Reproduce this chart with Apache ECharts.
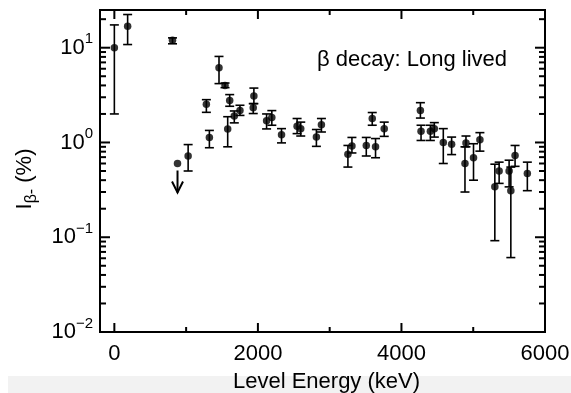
<!DOCTYPE html>
<html><head><meta charset="utf-8">
<script src="https://cdn.jsdelivr.net/npm/echarts@6/dist/echarts.min.js"></script>
<style>html,body{margin:0;padding:0;background:#fff}#c{width:571px;height:393px}</style>
</head><body><div id="c"></div>
<script>
// Level energies (keV), beta intensities (%), and error bar bounds
const energy    = [0, 185, 810, 1028, 1282, 1324, 1458, 1542, 1579, 1607, 1671, 1750, 1944, 1935, 2121, 2194, 2329, 2546, 2597, 2815, 2885, 3254, 3310, 3510, 3593, 3639, 3760, 4264, 4273, 4403, 4458, 4583, 4699, 4899, 4885, 5004, 5093, 5301, 5361, 5500, 5524, 5583, 5754];
const intensity = [10.0, 16.8, 12.0, 0.72, 2.53, 1.13, 6.15, 4.00, 1.39, 2.78, 1.90, 2.18, 3.09, 2.33, 1.70, 1.83, 1.21, 1.48, 1.40, 1.14, 1.54, 0.75, 0.92, 0.93, 1.79, 0.90, 1.40, 2.18, 1.31, 1.31, 1.40, 1.00, 0.96, 0.99, 0.60, 0.69, 1.07, 0.34, 0.50, 0.50, 0.31, 0.73, 0.47];
const errLow    = [2.0, 10.8, 11.0, 0.50, 2.08, 0.88, 4.18, 3.79, 0.90, 2.41, 1.61, 1.93, 2.57, 2.02, 1.39, 1.52, 0.99, 1.24, 1.17, 0.91, 1.29, 0.55, 0.775, 0.72, 1.52, 0.69, 1.16, 1.81, 1.05, 1.05, 1.14, 0.60, 0.745, 0.90, 0.30, 0.40, 0.81, 0.092, 0.37, 0.34, 0.061, 0.56, 0.31];
const errHigh   = [17.4, 22.4, 12.7, 0.95, 2.83, 1.34, 8.09, 4.24, 1.87, 3.20, 2.15, 2.47, 3.75, 2.57, 2.00, 2.17, 1.40, 1.79, 1.64, 1.37, 1.79, 0.93, 1.13, 1.13, 2.07, 1.10, 1.64, 2.63, 1.52, 1.52, 1.62, 1.40, 1.14, 1.17, 0.90, 0.97, 1.27, 0.59, 0.62, 0.65, 0.55, 0.93, 0.62];
// Upper limits
const limitEnergy = [880];
const limitValue  = [0.60];
// Axis ticks
const xLabelValues = [0, 2000, 4000, 6000];
const xMinorTickValues = [1000, 3000, 5000];
const yDecades = [0.01, 0.1, 1, 10];
const yMinorFactors = [2, 3, 4, 5, 6, 7, 8, 9];
const annotation = 'β decay: Long lived';

const FONT = '"Liberation Sans", Arial, Helvetica, sans-serif';
const chart = echarts.init(document.getElementById('c'), null, {renderer: 'canvas'});

const pointData = energy.map((e, i) => [e, intensity[i]]);
const errData = energy.map((e, i) => [e, errLow[i], errHigh[i]]);
const limitData = limitEnergy.map((e, i) => [e, limitValue[i]]);

const xTickData = xLabelValues.map(v => [v, 1, 1]).concat(xMinorTickValues.map(v => [v, 1, 0]));
const yTickData = [];
yDecades.forEach(d => {
  yTickData.push([0, d, 1]);
  yMinorFactors.forEach(f => { const v = +(d * f).toPrecision(3); if (v <= 25) yTickData.push([0, v, 0]); });
});

const black = '#000';
const supExp = v => {
  const l = Math.log10(v), e = Math.round(l);
  if (Math.abs(l - e) > 1e-6) return '';
  return '{b|10}{s|' + (e < 0 ? '\u2212' + (-e) : e) + '}';
};

chart.setOption({
  animation: false,
  grid: {left: 100, right: 26, top: 10, bottom: 61, show: true, borderColor: black, borderWidth: 2,
         backgroundColor: 'transparent', containLabel: false, outerBoundsMode: 'none'},
  graphic: [
    {type: 'rect', left: 8, top: 376, shape: {width: 563, height: 17}, style: {fill: '#f2f2f2'}, z: -10, silent: true},
    {type: 'text', left: 317, top: 49, style: {text: annotation, font: '22px ' + FONT, fill: black}, z: 10}
  ],
  xAxis: {
    type: 'value', min: -200, max: 6000,
    axisLine: {show: false}, axisTick: {show: false}, splitLine: {show: false},
    axisLabel: {interval: 0, fontSize: 22, fontFamily: FONT, color: black, margin: 11,
      formatter: v => (xLabelValues.indexOf(v) >= 0 ? String(v) : '')},
    name: 'Level Energy (keV)', nameLocation: 'middle', nameGap: 39,
    nameTextStyle: {fontSize: 22, fontFamily: FONT, color: black, padding: [0, 0, 0, 8]}
  },
  yAxis: {
    type: 'log', logBase: 10, min: 0.01, max: 25,
    axisLine: {show: false}, axisTick: {show: false}, splitLine: {show: false}, minorTick: {show: false},
    axisLabel: {interval: 0, margin: 7, formatter: supExp,
      rich: {
        b: {fontSize: 22, fontFamily: FONT, color: black, lineHeight: 32, verticalAlign: 'middle'},
        s: {fontSize: 15, fontFamily: FONT, color: black, lineHeight: 15, verticalAlign: 'top'}
      }},
    name: '{b|I}{sub|β-}{b| (%)}', nameLocation: 'middle', nameGap: 60,
    nameTextStyle: {
      padding: [0, 16, 0, 0],
      rich: {
        b: {fontSize: 22, fontFamily: FONT, color: black, lineHeight: 30, verticalAlign: 'middle'},
        sub: {fontSize: 16, fontFamily: FONT, color: black, lineHeight: 16, verticalAlign: 'bottom'}
      }
    }
  },
  series: [
    {
      type: 'custom', name: 'xticks', clip: false, silent: true, z: 5,
      encode: {x: 0, y: 1},
      data: xTickData,
      renderItem: (params, api) => {
        const cs = params.coordSys;
        const px = api.coord([api.value(0), 1])[0];
        const len = api.value(2) ? 9 : 5;
        const bottom = cs.y + cs.height, top = cs.y;
        return {type: 'group', children: [
          {type: 'line', shape: {x1: px, y1: bottom, x2: px, y2: bottom - len}, style: {stroke: black, lineWidth: 2}},
          {type: 'line', shape: {x1: px, y1: top, x2: px, y2: top + len}, style: {stroke: black, lineWidth: 2}}
        ]};
      }
    },
    {
      type: 'custom', name: 'yticks', clip: false, silent: true, z: 5,
      encode: {x: 0, y: 1},
      data: yTickData,
      renderItem: (params, api) => {
        const cs = params.coordSys;
        const py = api.coord([0, api.value(1)])[1];
        const len = api.value(2) ? 10 : 6;
        const left = cs.x, right = cs.x + cs.width;
        return {type: 'group', children: [
          {type: 'line', shape: {x1: left, y1: py, x2: left + len, y2: py}, style: {stroke: black, lineWidth: 2}},
          {type: 'line', shape: {x1: right, y1: py, x2: right - len, y2: py}, style: {stroke: black, lineWidth: 2}}
        ]};
      }
    },
    {
      type: 'custom', name: 'errors', silent: true, z: 3,
      encode: {x: 0, y: [1, 2]},
      data: errData,
      renderItem: (params, api) => {
        const lo = api.coord([api.value(0), api.value(1)]);
        const hi = api.coord([api.value(0), api.value(2)]);
        const w = 4.5;
        const st = {stroke: black, lineWidth: 1.6};
        return {type: 'group', children: [
          {type: 'line', shape: {x1: lo[0], y1: lo[1], x2: hi[0], y2: hi[1]}, style: st},
          {type: 'line', shape: {x1: lo[0] - w, y1: lo[1], x2: lo[0] + w, y2: lo[1]}, style: st},
          {type: 'line', shape: {x1: hi[0] - w, y1: hi[1], x2: hi[0] + w, y2: hi[1]}, style: st}
        ]};
      }
    },
    {
      type: 'custom', name: 'limits', silent: true, z: 3,
      encode: {x: 0, y: 1},
      data: limitData,
      renderItem: (params, api) => {
        const p = api.coord([api.value(0), api.value(1)]);
        const st = {stroke: black, lineWidth: 2, fill: null};
        return {type: 'group', children: [
          {type: 'line', shape: {x1: p[0], y1: p[1] + 7, x2: p[0], y2: p[1] + 29}, style: st},
          {type: 'polyline', shape: {points: [[p[0] - 5.5, p[1] + 18], [p[0], p[1] + 29], [p[0] + 5.5, p[1] + 18]]}, style: st}
        ]};
      }
    },
    {type: 'scatter', name: 'Ibeta', data: pointData, symbol: 'circle', symbolSize: 7.5, itemStyle: {color: black}, z: 4, silent: true},
    {type: 'scatter', name: 'limit', data: limitData, symbol: 'circle', symbolSize: 7.5, itemStyle: {color: black}, z: 4, silent: true}
  ]
});
</script>
</body></html>
